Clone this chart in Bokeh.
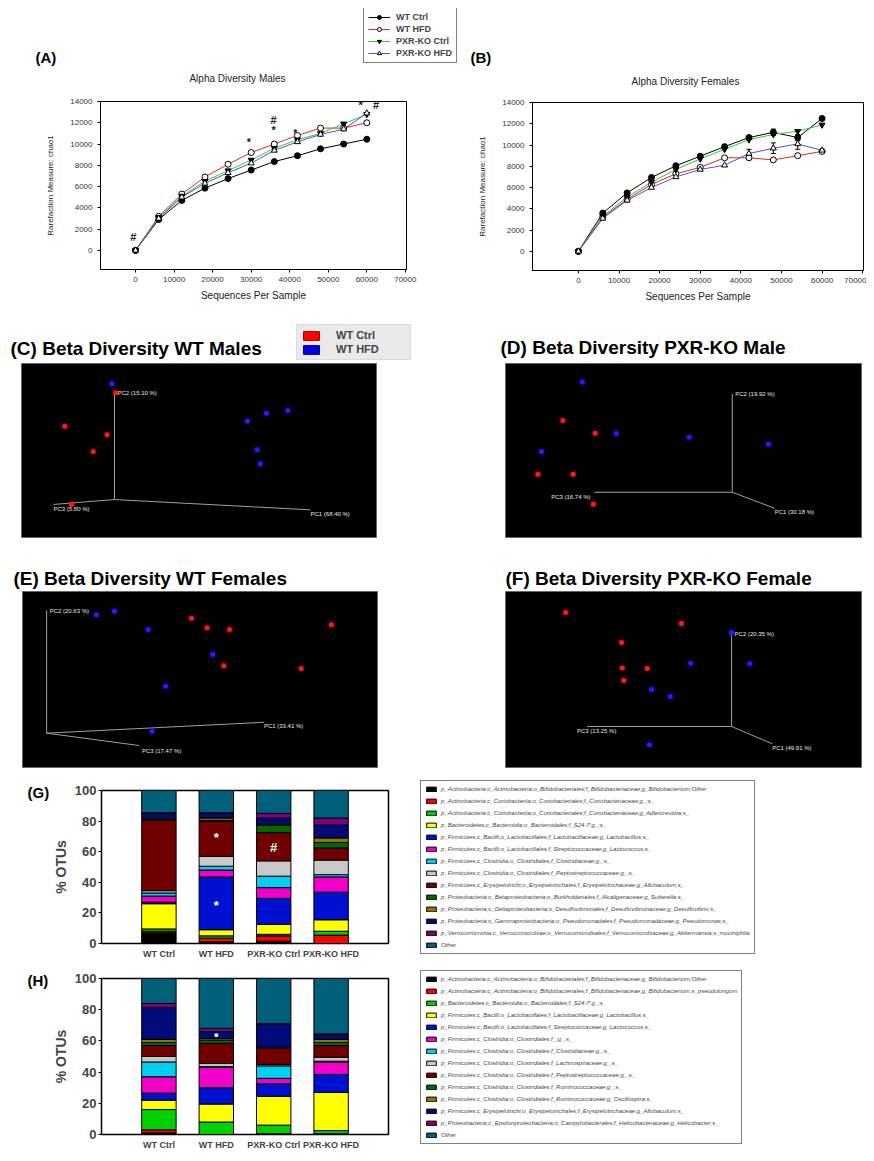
from bokeh.plotting import figure
from bokeh.layouts import column, row
from bokeh.models import (Range1d, Label, Legend, LegendItem, FixedTicker,
                          ColumnDataSource, Whisker)
from bokeh.embed import file_html
from bokeh.resources import INLINE
from bokeh.core.properties import value

FONT = "Liberation Sans"

# ---------------- data ----------------
seq_per_sample = [0, 6000, 12000, 18000, 24000, 30000, 36000, 42000, 48000, 54000, 60000]
seq_ticks = [0, 10000, 20000, 30000, 40000, 50000, 60000, 70000]
chao1_ticks = [0, 2000, 4000, 6000, 8000, 10000, 12000, 14000]
groups = ["WT Ctrl", "WT HFD", "PXR-KO Ctrl", "PXR-KO HFD"]

males_wt_ctrl = [0, 2900, 4700, 5850, 6750, 7550, 8350, 8900, 9550, 10000, 10450]
males_wt_hfd = [0, 3200, 5300, 6900, 8100, 9200, 10000, 10800, 11500, 11500, 12000]
males_pxr_ctrl = [0, 3100, 5100, 6500, 7500, 8500, 9600, 10400, 11000, 11900, 12800]
males_pxr_hfd = [0, 3000, 5000, 6300, 7300, 8200, 9400, 10200, 10900, 11400, 12900]

females_wt_ctrl = [0, 3600, 5500, 6950, 8050, 8950, 9850, 10700, 11200, 10700, 12500]
females_wt_hfd = [0, 3200, 4900, 6300, 7300, 7900, 8800, 8800, 8600, 9000, 9400]
females_pxr_ctrl = [0, 3300, 5100, 6500, 7700, 8700, 9600, 10500, 11000, 11300, 11900]
females_pxr_hfd = [0, 3100, 4800, 6000, 7000, 7700, 8100, 9200, 9700, 10100, 9500]

females_wt_ctrl_err = [0, 0, 0, 0, 0, 0, 0, 0, 300, 300, 0]
females_pxr_hfd_err = [0, 0, 0, 0, 0, 0, 0, 400, 500, 500, 0]

males_sig_x = [-600, 29400, 35800, 35800, 41500, 58400, 62400]
males_sig_y = [1300, 10200, 12300, 11300, 11000, 13700, 13700]
males_sig_text = ["#", "*", "#", "*", "*", "*", "#"]

# beta diversity (PCoA projections, panel units 0-100)
c_ctrl_x = [26.5, 12.2, 24.1, 20.2, 14.1]
c_ctrl_y = [83.2, 64.0, 59.0, 49.4, 19.0]
c_hfd_x = [25.5, 63.6, 69.0, 75.0, 66.4, 67.3]
c_hfd_y = [88.3, 66.8, 71.4, 73.0, 50.4, 42.4]
c_origin = [26.2, 21.8]
c_axis_end_x = [81.4, 26.2, 9.0]
c_axis_end_y = [15.9, 83.2, 19.0]
c_axis_labels = ["PC1 (68.40 %)", "PC2 (15.10 %)", "PC3 (5.80 %)"]

d_ctrl_x = [16.1, 25.2, 9.1, 19.0, 24.7]
d_ctrl_y = [67.2, 59.9, 36.4, 36.4, 19.1]
d_hfd_x = [21.6, 31.1, 51.6, 73.9, 10.1]
d_hfd_y = [89.3, 59.8, 57.6, 53.6, 49.4]
d_origin = [63.7, 26.0]
d_axis_end_x = [75.6, 63.7, 24.9]
d_axis_end_y = [16.8, 82.6, 26.0]
d_axis_labels = ["PC1 (30.18 %)", "PC2 (19.92 %)", "PC3 (16.74 %)"]

e_ctrl_x = [47.6, 52.0, 58.3, 87.0, 56.7, 78.5]
e_ctrl_y = [84.8, 79.4, 78.4, 81.1, 57.8, 56.3]
e_hfd_x = [20.8, 25.9, 35.4, 53.6, 40.3, 36.5]
e_hfd_y = [86.8, 88.8, 78.4, 64.2, 46.2, 20.6]
e_origin = [6.8, 19.5]
e_axis_end_x = [68.0, 6.8, 32.8]
e_axis_end_y = [25.7, 89.2, 12.5]
e_axis_labels = ["PC1 (33.41 %)", "PC2 (20.63 %)", "PC3 (17.47 %)"]

f_ctrl_x = [16.9, 49.4, 32.6, 32.8, 39.8, 33.2]
f_ctrl_y = [88.1, 81.8, 71.0, 56.6, 56.3, 49.4]
f_hfd_x = [63.5, 52.0, 68.6, 41.0, 46.3, 40.4]
f_hfd_y = [76.7, 59.3, 58.9, 44.3, 40.3, 12.9]
f_origin = [63.5, 23.3]
f_axis_end_x = [74.9, 63.5, 22.9]
f_axis_end_y = [13.5, 75.6, 23.3]
f_axis_labels = ["PC1 (49.91 %)", "PC2 (20.35 %)", "PC3 (13.25 %)"]

# taxa composition (% OTUs)
pct_ticks = [0, 20, 40, 60, 80, 100]
taxa_males = [
    "p_Actinobacteria;c_Actinobacteria;o_Bifidobacteriales;f_Bifidobacteriaceae;g_Bifidobacterium;Other",
    "p_Actinobacteria;c_Coriobacteriia;o_Coriobacteriales;f_Coriobacteriaceae;g_;s_",
    "p_Actinobacteria;c_Coriobacteriia;o_Coriobacteriales;f_Coriobacteriaceae;g_Adlercreutzia;s_",
    "p_Bacteroidetes;c_Bacteroidia;o_Bacteroidales;f_S24-7;g_;s_",
    "p_Firmicutes;c_Bacilli;o_Lactobacillales;f_Lactobacillaceae;g_Lactobacillus;s_",
    "p_Firmicutes;c_Bacilli;o_Lactobacillales;f_Streptococcaceae;g_Lactococcus;s_",
    "p_Firmicutes;c_Clostridia;o_Clostridiales;f_Clostridiaceae;g_;s_",
    "p_Firmicutes;c_Clostridia;o_Clostridiales;f_Peptostreptococcaceae;g_;s_",
    "p_Firmicutes;c_Erysipelotrichi;o_Erysipelotrichales;f_Erysipelotrichaceae;g_Allobaculum;s_",
    "p_Proteobacteria;c_Betaproteobacteria;o_Burkholderiales;f_Alcaligenaceae;g_Sutterella;s_",
    "p_Proteobacteria;c_Deltaproteobacteria;o_Desulfovibrionales;f_Desulfovibrionaceae;g_Desulfovibrio;s_",
    "p_Proteobacteria;c_Gammaproteobacteria;o_Pseudomonadales;f_Pseudomonadaceae;g_Pseudomonas;s_",
    "p_Verrucomicrobia;c_Verrucomicrobiae;o_Verrucomicrobiales;f_Verrucomicrobiaceae;g_Akkermansia;s_muciniphila",
    "Other",
]
males_comp_wt_ctrl = [7, 1, 1.5, 16.5, 1, 4, 2, 1.5, 46, 0.5, 1, 3, 0.5, 14.5]
males_comp_wt_hfd = [1, 2.5, 1.5, 4, 34.5, 4.5, 2.5, 6.5, 23, 0.5, 1.5, 3, 0.5, 14.5]
males_comp_pxr_ctrl = [1.5, 3.5, 1, 6.5, 17, 7, 7.5, 10, 18.5, 5, 0.5, 4, 3, 15]
males_comp_pxr_hfd = [0, 5.5, 2.5, 7.5, 18, 10, 1.5, 9.5, 8, 3.5, 3, 8.5, 4.5, 18]
males_sig_bar_x = [2, 2, 3]
males_sig_bar_y = [69, 25, 63]
males_sig_bar_text = ["*", "*", "#"]

taxa_females = [
    "p_Actinobacteria;c_Actinobacteria;o_Bifidobacteriales;f_Bifidobacteriaceae;g_Bifidobacterium;Other",
    "p_Actinobacteria;c_Actinobacteria;o_Bifidobacteriales;f_Bifidobacteriaceae;g_Bifidobacterium;s_pseudolongum",
    "p_Bacteroidetes;c_Bacteroidia;o_Bacteroidales;f_S24-7;g_;s_",
    "p_Firmicutes;c_Bacilli;o_Lactobacillales;f_Lactobacillaceae;g_Lactobacillus;s_",
    "p_Firmicutes;c_Bacilli;o_Lactobacillales;f_Streptococcaceae;g_Lactococcus;s_",
    "p_Firmicutes;c_Clostridia;o_Clostridiales;f_;g_;s_",
    "p_Firmicutes;c_Clostridia;o_Clostridiales;f_Clostridiaceae;g_;s_",
    "p_Firmicutes;c_Clostridia;o_Clostridiales;f_Lachnospiraceae;g_;s_",
    "p_Firmicutes;c_Clostridia;o_Clostridiales;f_Peptostreptococcaceae;g_;s_",
    "p_Firmicutes;c_Clostridia;o_Clostridiales;f_Ruminococcaceae;g_;s_",
    "p_Firmicutes;c_Clostridia;o_Clostridiales;f_Ruminococcaceae;g_Oscillospira;s_",
    "p_Firmicutes;c_Erysipelotrichi;o_Erysipelotrichales;f_Erysipelotrichaceae;g_Allobaculum;s_",
    "p_Proteobacteria;c_Epsilonproteobacteria;o_Campylobacterales;f_Helicobacteraceae;g_Helicobacter;s_",
    "Other",
]
females_comp_wt_ctrl = [1, 2, 13, 6, 4.5, 10.5, 9.5, 3.5, 7, 2, 2, 20.5, 2.5, 16]
females_comp_wt_hfd = [0, 0, 8, 11.5, 10.5, 13, 0.5, 2, 13, 2, 1, 4.5, 2, 32]
females_comp_pxr_ctrl = [0.5, 0, 5.5, 18.5, 8, 3.5, 8, 1, 10.5, 0.5, 0, 15, 0, 29]
females_comp_pxr_hfd = [0.5, 0, 2, 24.5, 11.5, 8, 0.5, 2.5, 7.5, 2, 2, 3, 0.5, 35.5]
females_sig_bar_x = [2]
females_sig_bar_y = [64]
females_sig_bar_text = ["\u2022"]

taxa_colors = ["#000000", "#ff0000", "#00d000", "#ffff00", "#0010d0", "#f000c8",
               "#00d0f0", "#c8c8c8", "#700000", "#006a00", "#8a7a00", "#000a78",
               "#800080", "#00607a"]

series_colors = ["#000000", "#e0282a", "#2ecc2e", "#5252c8"]
series_markers = ["circle", "circle", "inverted_triangle", "triangle"]
series_fills = ["#000000", "#ffffff", "#000000", "#ffffff"]

# legend-only proxy glyphs sit outside the visible (0..1) strip range
PROXY = [-5]


def base_fig(width, height, left, right, top, bottom, **kw):
    p = figure(width=width, height=height, toolbar_location=None, output_backend="svg",
               min_border_left=left, min_border_right=right,
               min_border_top=top, min_border_bottom=bottom,
               border_fill_color="white", **kw)
    p.frame_align = False
    return p


def strip_fig(width, height):
    """A figure whose frame covers the whole canvas (for headings / legends)."""
    p = base_fig(width, height, 0, 0, 0, 0, x_range=Range1d(0, 1), y_range=Range1d(0, 1),
                 x_axis_location=None, y_axis_location=None, outline_line_color=None)
    p.grid.visible = False
    return p


def add_label(p, x, y, text, size, style="normal", align="left", color="black"):
    p.add_layout(Label(x=x, y=y, x_units="screen", y_units="screen", text=text,
                       text_font=FONT, text_font_size=size, text_font_style=style,
                       text_align=align, text_baseline="middle", text_color=color))


# ---------------- header 1: shared legend, panel letters, titles ----------------
head1 = strip_fig(858, 90)
items = []
for g, c, m, f in zip(groups, series_colors, series_markers, series_fills):
    lr = head1.line(x=PROXY * 2, y=PROXY * 2, line_color=c, line_width=1)
    sr = head1.scatter(x=PROXY, y=PROXY, marker=m, size=6, fill_color=f, line_color="black")
    items.append(LegendItem(label=g, renderers=[lr, sr]))
head1.add_layout(Legend(items=items, location=(355, 35), label_text_font=FONT,
                        label_text_font_size="9px", label_text_font_style="bold",
                        glyph_width=22, glyph_height=10, label_height=10, spacing=2,
                        padding=4, margin=0, label_standoff=6,
                        border_line_color="black", border_line_width=1), "center")
add_label(head1, 27, 41, "(A)", "15px", "bold")
add_label(head1, 462, 41, "(B)", "15px", "bold")
add_label(head1, 229, 20, "Alpha Diversity Males", "10px", "normal", "center", "#222222")
add_label(head1, 677, 17, "Alpha Diversity Females", "10px", "normal", "center", "#222222")


# ---------------- alpha diversity ----------------
def alpha_panel(width, left, right, top_b, bottom, xr, series, errs=None, sig=None):
    p = base_fig(width, 207, left, right, top_b, bottom,
                 x_range=Range1d(*xr), y_range=Range1d(-1800, 14000))
    p.grid.visible = False
    p.outline_line_color = "black"
    p.outline_line_width = 1
    p.xaxis.ticker = FixedTicker(ticks=seq_ticks)
    p.yaxis.ticker = FixedTicker(ticks=chao1_ticks)
    p.xaxis.axis_label = "Sequences Per Sample"
    p.yaxis.axis_label = "Rarefaction Measure: chao1"
    for ax in (p.xaxis[0], p.yaxis[0]):
        ax.axis_line_color = "black"
        ax.major_tick_line_color = "black"
        ax.major_tick_out = 3
        ax.major_tick_in = 0
        ax.minor_tick_line_color = None
        ax.major_label_text_font = FONT
        ax.major_label_text_font_size = "8px"
        ax.major_label_text_color = "#333333"
        ax.axis_label_text_font = FONT
        ax.axis_label_text_font_style = "normal"
        ax.axis_label_text_color = "#222222"
    p.xaxis.major_label_standoff = 4
    p.xaxis.axis_label_standoff = 5
    p.xaxis.axis_label_text_font_size = "10px"
    p.yaxis.major_label_standoff = 5
    p.yaxis.axis_label_standoff = 12
    p.yaxis.axis_label_text_font_size = "8px"
    for vals, c in zip(series, series_colors):
        p.line(seq_per_sample, vals, line_color=c, line_width=1)
    if errs:
        for vals, err in errs:
            xs = [x for x, e in zip(seq_per_sample, err) if e > 0]
            lo = [v - e for v, e in zip(vals, err) if e > 0]
            hi = [v + e for v, e in zip(vals, err) if e > 0]
            w = Whisker(source=ColumnDataSource(dict(base=xs, lower=lo, upper=hi)),
                        base="base", lower="lower", upper="upper", line_color="black")
            w.upper_head.size = 5
            w.lower_head.size = 5
            p.add_layout(w)
    for vals, m, f in zip(series, series_markers, series_fills):
        p.scatter(seq_per_sample, vals, marker=m, size=6, fill_color=f,
                  line_color="black", line_width=1)
    if sig:
        sx, sy, st = sig
        p.text(x=sx, y=sy, text=st, text_font=value(FONT), text_font_size="11px",
               text_font_style="bold", text_align="center", text_baseline="middle",
               text_color="#222222")
    return p


pA = alpha_panel(430, 92, 32, 3, 36, (-9100, 70300),
                 [males_wt_ctrl, males_wt_hfd, males_pxr_ctrl, males_pxr_hfd],
                 sig=(males_sig_x, males_sig_y, males_sig_text))
pB = alpha_panel(428, 94, 3, 4, 35, (-11300, 70200),
                 [females_wt_ctrl, females_wt_hfd, females_pxr_ctrl, females_pxr_hfd],
                 errs=[(females_wt_ctrl, females_wt_ctrl_err),
                       (females_pxr_hfd, females_pxr_hfd_err)])


# ---------------- header 2 / 3: beta titles ----------------
TITLE_SIZE = "19px"
head2 = strip_fig(858, 58)
add_label(head2, 2, 15, "(C) Beta Diversity WT Males", TITLE_SIZE, "bold")
add_label(head2, 492, 16, "(D) Beta Diversity PXR-KO Male", TITLE_SIZE, "bold")
r1 = head2.vbar(x=PROXY, top=PROXY, width=1, fill_color="#ff0000", line_color="#aa0000")
r2 = head2.vbar(x=PROXY, top=PROXY, width=1, fill_color="#0000e0", line_color="#000090")
head2.add_layout(Legend(items=[LegendItem(label="WT Ctrl", renderers=[r1]),
                               LegendItem(label="WT HFD", renderers=[r2])],
                        location=(288, 3), label_text_font=FONT,
                        label_text_font_size="11px", label_text_font_style="bold",
                        glyph_width=20, glyph_height=11, label_height=12,
                        label_width=70, spacing=2, padding=4, margin=0,
                        label_standoff=15, background_fill_color="#e8e8e8",
                        border_line_color="#d0d0d0"), "center")

head3 = strip_fig(858, 31)
add_label(head3, 5, 13, "(E) Beta Diversity WT Females", TITLE_SIZE, "bold")
add_label(head3, 497, 13, "(F) Beta Diversity PXR-KO Female", TITLE_SIZE, "bold")


def beta_panel(width, height, left, right, top_b, bottom, ctrl_x, ctrl_y, hfd_x, hfd_y,
               origin, end_x, end_y, labels, pc3_dx):
    p = base_fig(width, height, left, right, top_b, bottom,
                 x_range=Range1d(0, 100), y_range=Range1d(0, 100),
                 x_axis_location=None, y_axis_location=None,
                 background_fill_color="black")
    p.grid.visible = False
    p.outline_line_color = "#666666"
    n = len(end_x)
    p.segment(x0=[origin[0]] * n, y0=[origin[1]] * n, x1=end_x, y1=end_y,
              line_color="#a0a0a0", line_width=1)
    tk = dict(text_font=value(FONT), text_font_size="6px", text_color="#e8e8e8")
    p.text(x=end_x[0:1], y=end_y[0:1], text=labels[0:1], text_align="left",
           text_baseline="middle", y_offset=4, **tk)
    p.text(x=end_x[1:2], y=end_y[1:2], text=labels[1:2], text_align="left",
           text_baseline="middle", x_offset=3, **tk)
    p.text(x=end_x[2:3], y=end_y[2:3], text=labels[2:3], text_align="left",
           text_baseline="middle", x_offset=pc3_dx, y_offset=5, **tk)
    for xs, ys, c in ((ctrl_x, ctrl_y, "#ff1a1a"), (hfd_x, hfd_y, "#2020ff")):
        p.scatter(xs, ys, size=9, fill_color=c, fill_alpha=0.15, line_color=None)
        p.scatter(xs, ys, size=5, fill_color=c, line_color=None)
    return p


pC = beta_panel(430, 197, 13, 62, 0, 23, c_ctrl_x, c_ctrl_y, c_hfd_x, c_hfd_y,
                c_origin, c_axis_end_x, c_axis_end_y, c_axis_labels, 0)
pD = beta_panel(428, 197, 67, 5, 0, 23, d_ctrl_x, d_ctrl_y, d_hfd_x, d_hfd_y,
                d_origin, d_axis_end_x, d_axis_end_y, d_axis_labels, -43)
pE = beta_panel(430, 184, 14, 61, 0, 8, e_ctrl_x, e_ctrl_y, e_hfd_x, e_hfd_y,
                e_origin, e_axis_end_x, e_axis_end_y, e_axis_labels, 3)
pF = beta_panel(428, 184, 67, 5, 0, 8, f_ctrl_x, f_ctrl_y, f_hfd_x, f_hfd_y,
                f_origin, f_axis_end_x, f_axis_end_y, f_axis_labels, -10)


# ---------------- taxa bar charts ----------------
def bar_row(height, top_b, bottom, comps, taxa, letter, letter_y, sig, legend_y):
    letter_fig = strip_fig(41, height)
    add_label(letter_fig, 19, letter_y, letter, "15px", "bold")

    p = base_fig(351, height, 50, 12, top_b, bottom,
                 x_range=Range1d(0, len(groups) + 1), y_range=Range1d(0, 100))
    p.grid.visible = False
    p.outline_line_color = "black"
    p.outline_line_width = 1.5
    bar_pos = [i + 1 for i in range(len(groups))]
    keys = ["t%d" % j for j in range(len(taxa))]
    data = {"x": bar_pos}
    for j, k in enumerate(keys):
        data[k] = [c[j] for c in comps]
    src = ColumnDataSource(data)
    p.vbar_stack(keys, x="x", width=0.6, source=src,
                 fill_color=taxa_colors[:len(taxa)], line_color="black", line_width=1)
    sx, sy, st = sig
    p.text(x=sx, y=sy, text=st, text_font=value(FONT), text_font_size="13px",
           text_font_style="bold", text_color="white", text_align="center",
           text_baseline="middle")
    p.xaxis.ticker = FixedTicker(ticks=bar_pos)
    p.xaxis.major_label_overrides = {pos: g for pos, g in zip(bar_pos, groups)}
    p.yaxis.ticker = FixedTicker(ticks=pct_ticks)
    p.yaxis.axis_label = "% OTUs"
    for ax in (p.xaxis[0], p.yaxis[0]):
        ax.axis_line_color = "black"
        ax.minor_tick_line_color = None
        ax.major_label_text_font = FONT
        ax.major_label_text_font_style = "bold"
        ax.major_tick_in = 0
    p.xaxis.major_tick_out = 0
    p.xaxis.major_label_text_font_size = "9px"
    p.xaxis.major_label_standoff = 5
    p.yaxis.major_tick_out = 3
    p.yaxis.major_label_standoff = 2
    p.yaxis.major_label_text_font_size = "13px"
    p.yaxis.axis_label_text_font = FONT
    p.yaxis.axis_label_text_font_size = "14px"
    p.yaxis.axis_label_text_font_style = "bold"
    p.yaxis.axis_label_standoff = 3

    lf = strip_fig(466, height)
    litems = []
    for t, c in zip(taxa, taxa_colors):
        r = lf.vbar(x=PROXY, top=PROXY, width=1, fill_color=c, line_color="black",
                    line_width=1)
        litems.append(LegendItem(label=t, renderers=[r]))
    lf.add_layout(Legend(items=litems, location=(20, legend_y), label_text_font=FONT,
                         label_text_font_size="6px", label_text_font_style="italic",
                         glyph_width=12, glyph_height=6, label_height=8, spacing=4,
                         padding=4, margin=0, label_standoff=4,
                         border_line_color="black", border_line_width=1.5,
                         background_fill_color="white"), "center")
    return row(letter_fig, p, lf)


rowG = bar_row(190, 15, 22,
               [males_comp_wt_ctrl, males_comp_wt_hfd, males_comp_pxr_ctrl, males_comp_pxr_hfd],
               taxa_males, "(G)", 173, (males_sig_bar_x, males_sig_bar_y, males_sig_bar_text),
               11)
rowH = bar_row(187, 13, 17,
               [females_comp_wt_ctrl, females_comp_wt_hfd, females_comp_pxr_ctrl,
                females_comp_pxr_hfd],
               taxa_females, "(H)", 172,
               (females_sig_bar_x, females_sig_bar_y, females_sig_bar_text), 8)

layout = column(head1, row(pA, pB), head2, row(pC, pD), head3, row(pE, pF), rowG, rowH,
                margin=(8, 8, 8, 8))
open("out.html", "w").write(file_html(layout, INLINE))
